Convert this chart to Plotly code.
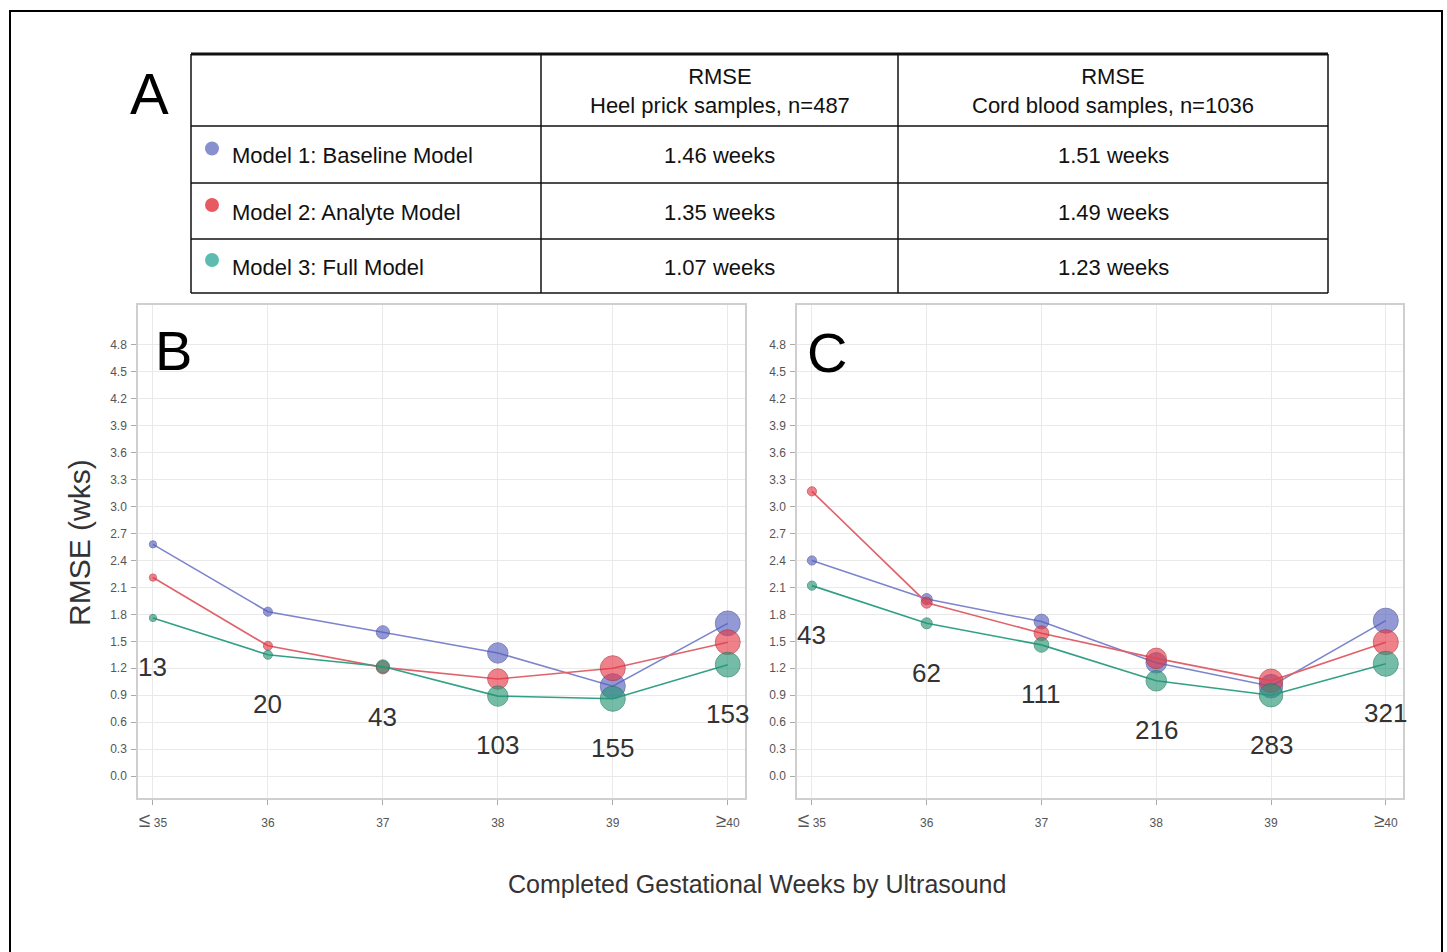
import plotly.graph_objects as go

W, H = 1447, 952

# ---------------- data ----------------
categories = ["≤35", "36", "37", "38", "39", "≥40"]
tick_text = ["<span style='font-size:21px'>≤</span> 35", "36", "37", "38", "39",
             "<span style='font-size:19px'>≥</span>40"]
y_ticks = [0.0, 0.3, 0.6, 0.9, 1.2, 1.5, 1.8, 2.1, 2.4, 2.7, 3.0, 3.3, 3.6, 3.9, 4.2, 4.5, 4.8]

models = ["Model 1: Baseline Model", "Model 2: Analyte Model", "Model 3: Full Model"]
header_heel = "RMSE<br>Heel prick samples, n=487"
header_cord = "RMSE<br>Cord blood samples, n=1036"
heel_rmse = ["1.46 weeks", "1.35 weeks", "1.07 weeks"]
cord_rmse = ["1.51 weeks", "1.49 weeks", "1.23 weeks"]

heel_n = [13, 20, 43, 103, 155, 153]
heel_m1 = [2.58, 1.83, 1.60, 1.37, 1.00, 1.70]
heel_m2 = [2.21, 1.45, 1.21, 1.08, 1.20, 1.49]
heel_m3 = [1.76, 1.35, 1.22, 0.89, 0.86, 1.24]

cord_n = [43, 62, 111, 216, 283, 321]
cord_m1 = [2.40, 1.97, 1.72, 1.26, 1.00, 1.73]
cord_m2 = [3.17, 1.93, 1.59, 1.31, 1.06, 1.49]
cord_m3 = [2.12, 1.70, 1.46, 1.06, 0.90, 1.25]

# ---------------- styles ----------------
FONT = "Liberation Sans, Arial, Helvetica, sans-serif"
line_colors = ["#7c84cc", "#e0626b", "#33a085"]
marker_colors = ["rgba(84,94,188,0.9)", "rgba(228,56,70,0.9)", "rgba(38,150,118,0.9)"]
outline_colors = ["#4a529e", "#b8303b", "#1f7a62"]
dot_colors = ["#8891d0", "#e85a62", "#5dbcb0"]
MAX_DIAM = 25


def px_x(p):
    return p / W


def px_y(p):
    return 1 - p / H


fig = go.Figure()

panels = [
    ("x", "y", heel_n, [heel_m1, heel_m2, heel_m3]),
    ("x2", "y2", cord_n, [cord_m1, cord_m2, cord_m3]),
]
xs = list(range(len(categories)))
annotations = []
for xa, ya, ns, series in panels:
    nmax = max(ns)
    sizes = [MAX_DIAM * (n / nmax) ** 0.5 for n in ns]
    for i, vals in enumerate(series):
        fig.add_trace(go.Scatter(
            x=xs, y=vals, xaxis=xa, yaxis=ya, mode="lines+markers",
            line=dict(color=line_colors[i], width=1.6),
            marker=dict(size=sizes, color=marker_colors[i],
                        line=dict(color=outline_colors[i], width=1)),
            showlegend=False, name=models[i], cliponaxis=False,
        ))
    for j, n in enumerate(ns):
        low = min(s[j] for s in series)
        annotations.append(dict(
            x=xs[j], y=low - 0.55, xref=xa, yref=ya, text=str(n), showarrow=False,
            font=dict(family=FONT, size=26, color="#333333"),
            xanchor="center", yanchor="middle"))

axis_common_x = dict(
    range=[-0.13, 5.15], tickmode="array", tickvals=xs, ticktext=tick_text,
    showgrid=True, gridcolor="#e9e9e9", gridwidth=1, zeroline=False,
    showline=True, linecolor="#cfcfcf", linewidth=1.5, mirror=True,
    ticks="outside", ticklen=5, tickcolor="#aaaaaa", ticklabelstandoff=8,
    tickfont=dict(family=FONT, size=12, color="#555555"),
)
axis_common_y = dict(
    range=[-0.245, 5.245], tickmode="array", tickvals=y_ticks,
    ticktext=[f"{v:.1f}" for v in y_ticks],
    showgrid=True, gridcolor="#e9e9e9", gridwidth=1, zeroline=False,
    showline=True, linecolor="#cfcfcf", linewidth=1.5, mirror=True,
    ticks="outside", ticklen=5, tickcolor="#aaaaaa", ticklabelstandoff=2,
    tickfont=dict(family=FONT, size=12, color="#555555"),
)

y_dom = [px_y(798), px_y(305)]
layout = dict(
    width=W, height=H, autosize=False,
    margin=dict(l=0, r=0, t=0, b=0),
    paper_bgcolor="white", plot_bgcolor="white",
    xaxis=dict(domain=[px_x(138), px_x(745)], anchor="y", **axis_common_x),
    yaxis=dict(domain=y_dom, anchor="x", **axis_common_y),
    xaxis2=dict(domain=[px_x(797), px_x(1403)], anchor="y2", **axis_common_x),
    yaxis2=dict(domain=y_dom, anchor="x2", **axis_common_y),
)

# panel letters and axis titles
for letter, cx, cy, size in [("A", 149, 94, 58), ("B", 173, 350, 56), ("C", 827, 352, 56)]:
    annotations.append(dict(x=px_x(cx), y=px_y(cy), xref="paper", yref="paper",
                            text=letter, showarrow=False, xanchor="center", yanchor="middle",
                            font=dict(family=FONT, size=size, color="#000000")))
annotations.append(dict(x=px_x(79), y=px_y(543), xref="paper", yref="paper",
                        text="RMSE (wks)", textangle=-90, showarrow=False,
                        xanchor="center", yanchor="middle",
                        font=dict(family=FONT, size=30, color="#333333")))
annotations.append(dict(x=px_x(757), y=px_y(884), xref="paper", yref="paper",
                        text="Completed Gestational Weeks by Ultrasound", showarrow=False,
                        xanchor="center", yanchor="middle",
                        font=dict(family=FONT, size=25, color="#333333")))

# ---------------- table (panel A) ----------------
col_edges = [191, 541, 898, 1328]
row_edges = [54, 126, 183, 239, 293]
shapes = []
for i, yy in enumerate(row_edges):
    shapes.append(dict(type="line", xref="paper", yref="paper",
                       x0=px_x(col_edges[0]), x1=px_x(col_edges[-1]), y0=px_y(yy), y1=px_y(yy),
                       line=dict(color="#111111", width=3 if i == 0 else 1.5)))
for xx in col_edges:
    shapes.append(dict(type="line", xref="paper", yref="paper",
                       x0=px_x(xx), x1=px_x(xx), y0=px_y(row_edges[0]), y1=px_y(row_edges[-1]),
                       line=dict(color="#111111", width=1.5)))

tfont = dict(family=FONT, size=22, color="#111111")
for k, hdr in enumerate([header_heel, header_cord]):
    cx = (col_edges[k + 1] + col_edges[k + 2]) / 2
    annotations.append(dict(x=px_x(cx), y=px_y((row_edges[0] + row_edges[1]) / 2 + 1),
                            xref="paper", yref="paper", text=hdr, showarrow=False,
                            xanchor="center", yanchor="middle", font=tfont, align="center"))
for r in range(3):
    cy = (row_edges[r + 1] + row_edges[r + 2]) / 2
    annotations.append(dict(x=px_x(col_edges[0] + 39), y=px_y(cy + 1), xref="paper", yref="paper",
                            text=models[r], showarrow=False, xanchor="left", yanchor="middle",
                            font=tfont))
    for k, vals in enumerate([heel_rmse, cord_rmse]):
        cx = (col_edges[k + 1] + col_edges[k + 2]) / 2
        annotations.append(dict(x=px_x(cx), y=px_y(cy + 1), xref="paper", yref="paper",
                                text=vals[r], showarrow=False, xanchor="center", yanchor="middle",
                                font=tfont))
    dx, dy, rad = col_edges[0] + 21, cy - 6, 7
    shapes.append(dict(type="circle", xref="paper", yref="paper",
                       x0=px_x(dx - rad), x1=px_x(dx + rad), y0=px_y(dy + rad), y1=px_y(dy - rad),
                       fillcolor=dot_colors[r], line=dict(width=0)))

# outer frame (left, top, right)
shapes.append(dict(type="path", xref="paper", yref="paper",
                   path=f"M {px_x(10)},{px_y(960)} L {px_x(10)},{px_y(11)} L {px_x(1442)},{px_y(11)} L {px_x(1442)},{px_y(960)}",
                   line=dict(color="#000000", width=2)))

layout["annotations"] = annotations
layout["shapes"] = shapes
fig.update_layout(**layout)
fig.write_html("out.html",
               config={"displayModeBar": False},
               post_script="document.body.style.margin='0px';document.body.style.overflow='hidden';")
